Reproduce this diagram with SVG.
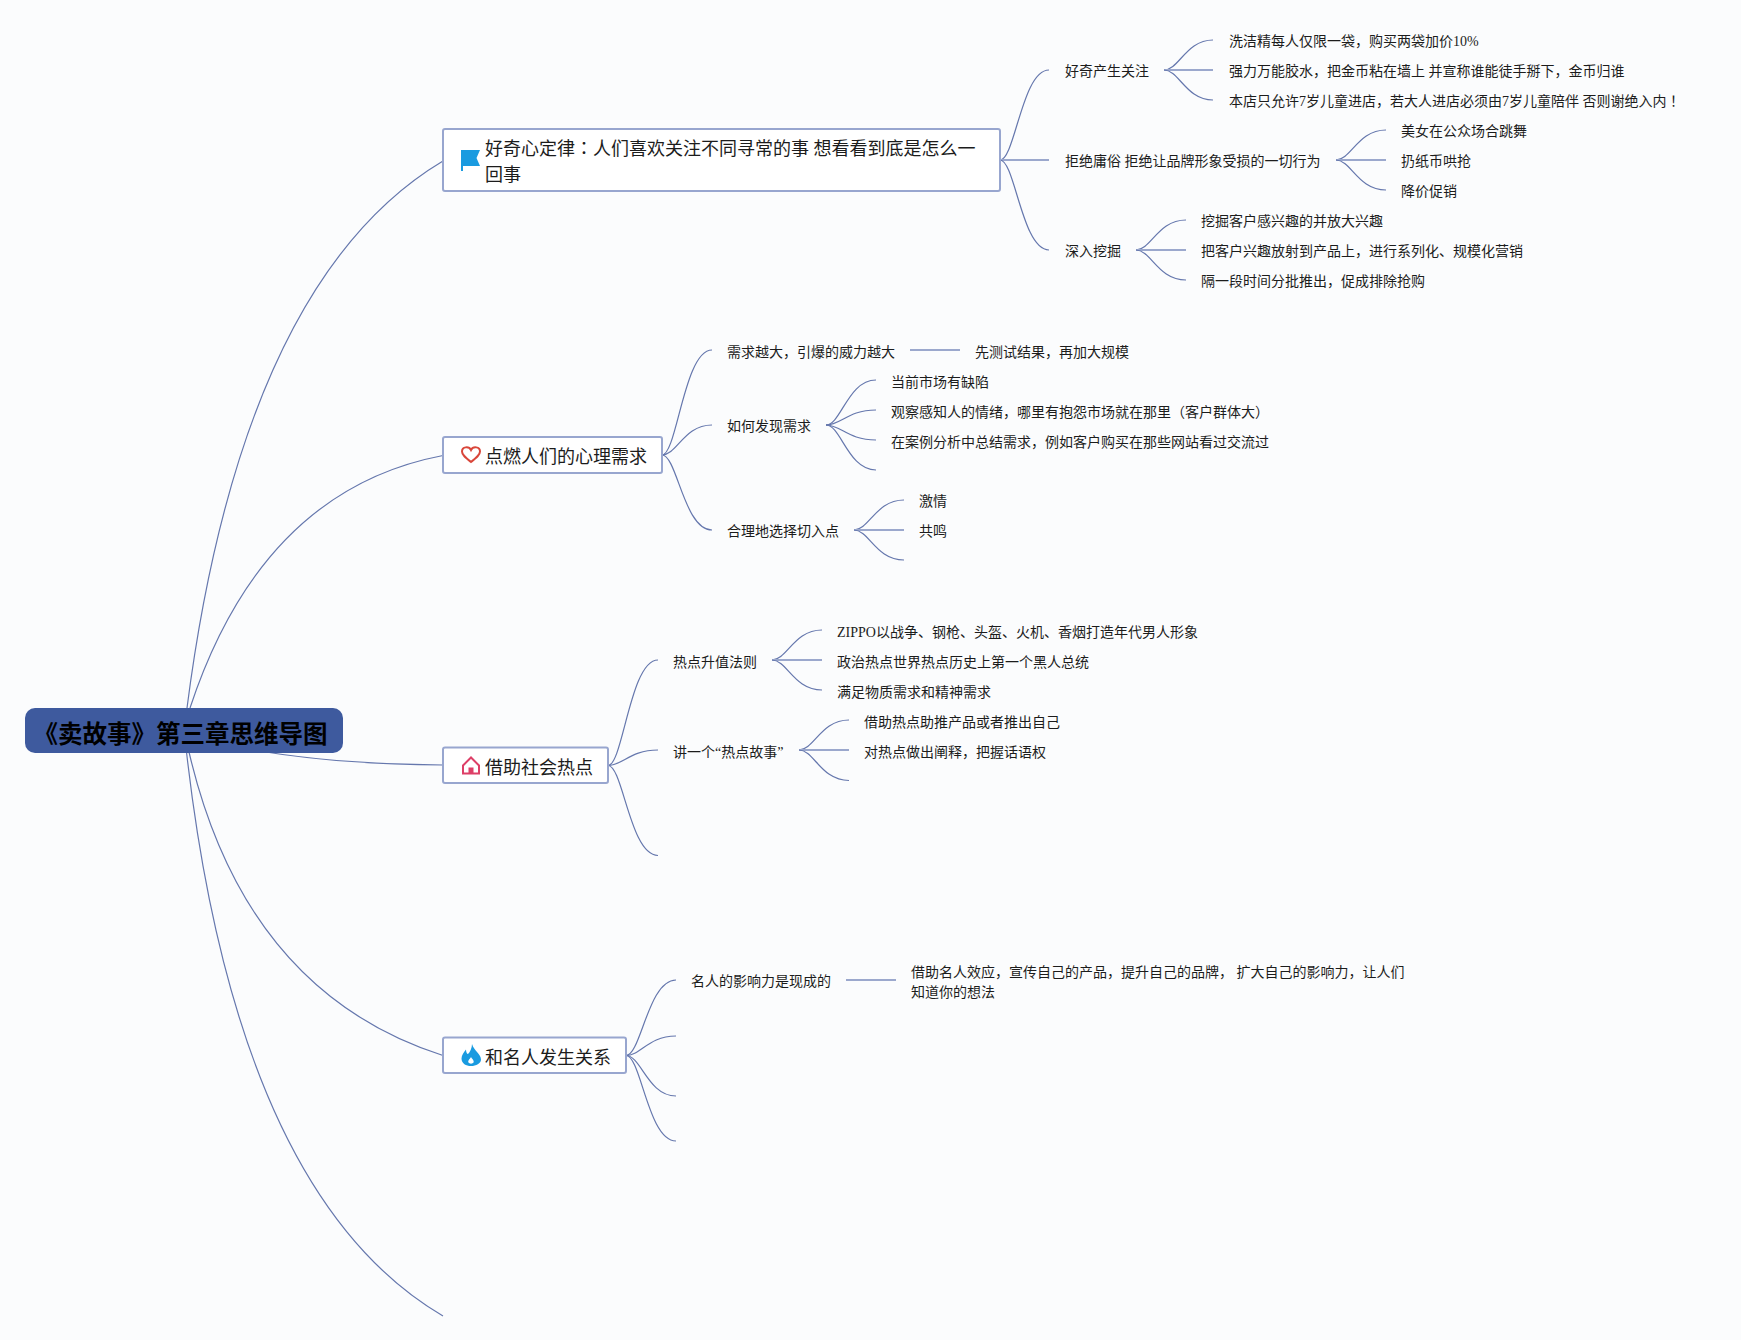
<svg xmlns="http://www.w3.org/2000/svg" width="1741" height="1340" viewBox="0 0 1741 1340">
<style>
text{font-family:"Liberation Serif","Noto Sans CJK SC",sans-serif;fill:#1c1c1c}
.leaf{font-size:14px}
.topic{font-size:18px}
.root-text{font-size:24.500px;font-weight:700;fill:#000}
.p{font-family:"Noto Sans CJK JP",sans-serif}
.box{fill:#fff;stroke:#98a6cf;stroke-width:2}
.c{fill:none;stroke:#6577ad;stroke-width:1.2}
.s{fill:none;stroke:#9ba8cd;stroke-width:2}
</style>
<rect width="1741" height="1340" fill="#fbfcfd"/>
<g id="connectors">
<path class="c" d="M187,708Q242,281 443,161"/>
<path class="c" d="M190,708Q262,490 443,455.5"/>
<path class="c" d="M266,752Q340,764 443,765"/>
<path class="c" d="M189,752Q245,992 443,1055.500"/>
<path class="c" d="M186.500,752Q237,1195 443,1316"/>
<path class="c" d="M1000,160C1015,160 1022,70 1049,70"/>
<path class="s" d="M1000,160H1049"/>
<path class="c" d="M1000,160C1015,160 1022,250 1049,250"/>
<path class="c" d="M1164,70C1179,70 1186,40 1213,40"/>
<path class="s" d="M1164,70H1213"/>
<path class="c" d="M1164,70C1179,70 1186,100 1213,100"/>
<path class="c" d="M1336,160C1351,160 1358,130 1386,130"/>
<path class="s" d="M1336,160H1386"/>
<path class="c" d="M1336,160C1351,160 1358,190 1386,190"/>
<path class="c" d="M1136,250C1151,250 1158,220 1186,220"/>
<path class="s" d="M1136,250H1186"/>
<path class="c" d="M1136,250C1151,250 1158,280 1186,280"/>
<path class="c" d="M662,455C677,455 684,350 712,350"/>
<path class="c" d="M662,455C677,455 684,425 712,425"/>
<path class="c" d="M662,455C677,455 684,530 712,530"/>
<path class="s" d="M910,350H960"/>
<path class="c" d="M826,425C841,425 848,380 876,380"/>
<path class="c" d="M826,425C841,425 848,410 876,410"/>
<path class="c" d="M826,425C841,425 848,440 876,440"/>
<path class="c" d="M826,425C841,425 848,470 876,470"/>
<path class="c" d="M854,530C869,530 876,500 904,500"/>
<path class="s" d="M854,530H904"/>
<path class="c" d="M854,530C869,530 876,560 904,560"/>
<path class="c" d="M608,765.500C623,765.500 630,660 658,660"/>
<path class="c" d="M608,765.500C623,765.500 630,750 658,750"/>
<path class="c" d="M608,765.500C623,765.500 630,855.500 658,855.500"/>
<path class="c" d="M772,660C787,660 794,630 822,630"/>
<path class="s" d="M772,660H822"/>
<path class="c" d="M772,660C787,660 794,690 822,690"/>
<path class="c" d="M799,750C814,750 821,720 849,720"/>
<path class="s" d="M799,750H849"/>
<path class="c" d="M799,750C814,750 821,780.500 849,780.500"/>
<path class="c" d="M626,1055.500C641,1055.500 648,980 676,980"/>
<path class="c" d="M626,1055.500C641,1055.500 648,1036 676,1036"/>
<path class="c" d="M626,1055.500C641,1055.500 648,1096 676,1096"/>
<path class="c" d="M626,1055.500C641,1055.500 648,1141 676,1141"/>
<path class="s" d="M846,980H896"/>
</g>
<g id="root">
<rect x="25" y="708" width="318" height="45" rx="10" fill="#3e5a9e"/>
<text class="root-text" x="33.500" y="742.500">《卖故事》第三章思维导图</text>
</g>
<g id="topic-1">
<rect class="box" x="443" y="129" width="557" height="62" rx="2"/>
<polygon points="461,150 480,150 476.500,158 480,166 463,166 463,171 461,171" fill="#1a9be0"/>
<text class="topic" x="485" y="155">好奇心定律<tspan class="p">：</tspan>人们喜欢关注不同寻常的事 想看看到底是怎么一</text>
<text class="topic" x="485" y="181">回事</text>
</g>
<g id="topic-2">
<rect class="box" x="443" y="437" width="219" height="36" rx="2"/>
<path d="M471,462C466,458 462,455 462,451.500C462,446.500 469,446 471,450C473,446 480,446.500 480,451.500C480,455 476,458 471,462Z" fill="none" stroke="#d9463a" stroke-width="2"/>
<text class="topic" x="485" y="462.800">点燃人们的心理需求</text>
</g>
<g id="topic-3">
<rect class="box" x="443" y="747.500" width="165" height="35.500" rx="2"/>
<path d="M463,765.500L471,757.500L479,765.500V773.500H463Z" fill="none" stroke="#dd3f67" stroke-width="2"/>
<rect x="468.500" y="767.500" width="5" height="6" fill="#dd3f67"/>
<text class="topic" x="485" y="773.500">借助社会热点</text>
</g>
<g id="topic-4">
<rect class="box" x="443" y="1037.500" width="183" height="35.500" rx="2"/>
<path d="M472,1044C474,1051 481,1054 481,1059.500C481,1063.500 476,1066 471,1066C466,1066 461.500,1063.500 461.500,1058.500C461.500,1055 464,1052 466,1049.500C466,1052 467,1054 468,1054C470,1052 472,1048 472,1044Z" fill="#1a9be0"/>
<path d="M471,1057C470,1059 467.500,1060.500 468.500,1062.500C469.500,1064 472.500,1064 473.500,1062.500C474.500,1060.500 472,1059 471,1057Z" fill="#fff"/>
<text class="topic" x="485" y="1063.500">和名人发生关系</text>
</g>
<g id="n-1-1"><text class="leaf" x="1065" y="75.800">好奇产生关注</text></g>
<g id="n-1-1-1"><text class="leaf" x="1229" y="45.800">洗洁精每人仅限一袋，购买两袋加价10%</text></g>
<g id="n-1-1-2"><text class="leaf" x="1229" y="75.800">强力万能胶水，把金币粘在墙上 并宣称谁能徒手掰下，金币归谁</text></g>
<g id="n-1-1-3"><text class="leaf" x="1229" y="105.800">本店只允许7岁儿童进店，若大人进店必须由7岁儿童陪伴 否则谢绝入内<tspan class="p">！</tspan></text></g>
<g id="n-1-2"><text class="leaf" x="1065" y="165.800">拒绝庸俗 拒绝让品牌形象受损的一切行为</text></g>
<g id="n-1-2-1"><text class="leaf" x="1401" y="135.800">美女在公众场合跳舞</text></g>
<g id="n-1-2-2"><text class="leaf" x="1401" y="165.800">扔纸币哄抢</text></g>
<g id="n-1-2-3"><text class="leaf" x="1401" y="195.800">降价促销</text></g>
<g id="n-1-3"><text class="leaf" x="1065" y="255.800">深入挖掘</text></g>
<g id="n-1-3-1"><text class="leaf" x="1201" y="225.800">挖掘客户感兴趣的并放大兴趣</text></g>
<g id="n-1-3-2"><text class="leaf" x="1201" y="255.800">把客户兴趣放射到产品上，进行系列化、规模化营销</text></g>
<g id="n-1-3-3"><text class="leaf" x="1201" y="285.800">隔一段时间分批推出，促成排除抢购</text></g>
<g id="n-2-1"><text class="leaf" x="727" y="356.500">需求越大，引爆的威力越大</text></g>
<g id="n-2-1-1"><text class="leaf" x="975" y="356.500">先测试结果，再加大规模</text></g>
<g id="n-2-2"><text class="leaf" x="727" y="431.200">如何发现需求</text></g>
<g id="n-2-2-1"><text class="leaf" x="891" y="386.500">当前市场有缺陷</text></g>
<g id="n-2-2-2"><text class="leaf" x="891" y="416.500">观察感知人的情绪，哪里有抱怨市场就在那里（客户群体大）</text></g>
<g id="n-2-2-3"><text class="leaf" x="891" y="446.500">在案例分析中总结需求，例如客户购买在那些网站看过交流过</text></g>
<g id="n-2-3"><text class="leaf" x="727" y="536.200">合理地选择切入点</text></g>
<g id="n-2-3-1"><text class="leaf" x="919" y="505.800">激情</text></g>
<g id="n-2-3-2"><text class="leaf" x="919" y="535.800">共鸣</text></g>
<g id="n-3-1"><text class="leaf" x="673" y="666.500">热点升值法则</text></g>
<g id="n-3-1-1"><text class="leaf" x="837" y="636.500">ZIPPO以战争、钢枪、头盔、火机、香烟打造年代男人形象</text></g>
<g id="n-3-1-2"><text class="leaf" x="837" y="666.500">政治热点世界热点历史上第一个黑人总统</text></g>
<g id="n-3-1-3"><text class="leaf" x="837" y="696.500">满足物质需求和精神需求</text></g>
<g id="n-3-2"><text class="leaf" x="673" y="756.500">讲一个“热点故事”</text></g>
<g id="n-3-2-1"><text class="leaf" x="864" y="726.500">借助热点助推产品或者推出自己</text></g>
<g id="n-3-2-2"><text class="leaf" x="864" y="756.500">对热点做出阐释，把握话语权</text></g>
<g id="n-4-1"><text class="leaf" x="691" y="986.300">名人的影响力是现成的</text></g>
<g id="n-4-1-1"><text class="leaf" x="911" y="976.500">借助名人效应，宣传自己的产品，提升自己的品牌， 扩大自己的影响力，让人们</text><text class="leaf" x="911" y="996.500">知道你的想法</text></g>
</svg>
